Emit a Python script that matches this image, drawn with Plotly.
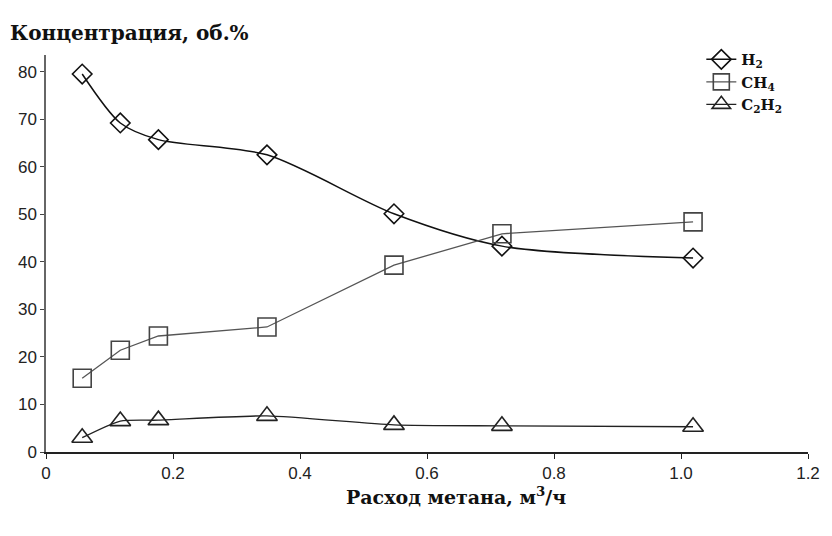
import plotly.graph_objects as go

flow = [0.057, 0.117, 0.177, 0.348, 0.548, 0.718, 1.019]
h2 = [79.5, 69.2, 65.7, 62.5, 50.1, 43.3, 40.8]
ch4 = [15.5, 21.4, 24.4, 26.3, 39.3, 45.9, 48.4]
c2h2 = [3.0, 6.5, 6.7, 7.6, 5.7, 5.5, 5.3]

x_ticks = [0, 0.2, 0.4, 0.6, 0.8, 1.0, 1.2]
x_tick_labels = ["0", "0.2", "0.4", "0.6", "0.8", "1.0", "1.2"]
y_ticks = [0, 10, 20, 30, 40, 50, 60, 70, 80]

fig = go.Figure()
fig.add_trace(go.Scatter(
    x=flow, y=h2, name="<b>H<sub>2</sub></b>", mode="lines+markers",
    line=dict(color="#111111", width=1.5, shape="spline", smoothing=0.8),
    marker=dict(symbol="diamond-open", size=15, color="#111111", line=dict(width=1.6)),
))
fig.add_trace(go.Scatter(
    x=flow, y=ch4, name="<b>CH<sub>4</sub></b>", mode="lines+markers",
    line=dict(color="#555555", width=1.3),
    marker=dict(symbol="square-open", size=18, color="#444444", line=dict(width=1.6)),
))
fig.add_trace(go.Scatter(
    x=flow, y=c2h2, name="<b>C<sub>2</sub>H<sub>2</sub></b>", mode="lines+markers",
    line=dict(color="#222222", width=1.4, shape="spline", smoothing=0.6),
    marker=dict(symbol="triangle-up-open", size=18, color="#222222", line=dict(width=1.6)),
))

fig.update_layout(
    width=816, height=520,
    margin=dict(l=38, r=16, t=47, b=76, autoexpand=False),
    paper_bgcolor="white", plot_bgcolor="white",
    font=dict(family="Liberation Sans, Arial", size=17, color="#222222"),
    showlegend=True,
    legend=dict(
        x=0.86, y=1.03, xanchor="left", yanchor="top",
        font=dict(family="DejaVu Serif, Liberation Serif", size=15, color="#111111"),
        bgcolor="rgba(0,0,0,0)", tracegroupgap=0, itemwidth=30,
    ),
    xaxis=dict(
        range=[0, 1.2], tickvals=x_ticks, ticktext=x_tick_labels,
        showgrid=False, zeroline=False, showline=True, linecolor="#222222", linewidth=2,
        ticks="outside", ticklen=5, tickcolor="#222222",
    ),
    yaxis=dict(
        range=[0, 83.5], tickvals=y_ticks,
        showgrid=False, zeroline=False, showline=True, linecolor="#666666", linewidth=1.5,
        ticks="outside", ticklen=4, tickcolor="#444444",
    ),
    annotations=[
        dict(
            text="<b>Концентрация, об.%</b>", xref="paper", yref="paper",
            x=-0.05, y=1.0, xanchor="left", yanchor="bottom", yshift=8, showarrow=False,
            font=dict(family="DejaVu Serif, Liberation Serif", size=20, color="#111111"),
        ),
        dict(
            text="<b>Расход метана, м<sup>3</sup>/ч</b>", xref="paper", yref="paper",
            x=0.538, y=0, xanchor="center", yanchor="top", yshift=-30, showarrow=False,
            font=dict(family="DejaVu Serif, Liberation Serif", size=19, color="#111111"),
        ),
    ],
)

fig.write_html("out.html")
